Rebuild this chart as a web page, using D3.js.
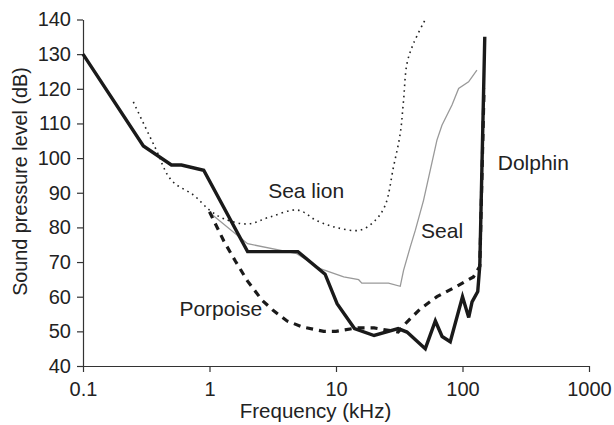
<!DOCTYPE html>
<html>
<head>
<meta charset="utf-8">
<script src="https://cdn.jsdelivr.net/npm/d3@7"></script>
<style>
  html, body { margin: 0; padding: 0; background: #fff; }
  svg text { font-family: "Liberation Sans", Arial, Helvetica, sans-serif; fill: #222; }
</style>
</head>
<body>
<svg id="chart" width="614" height="425"></svg>
<script>
// ---- data (frequency kHz, threshold dB) ----
const xTicks = [0.1, 1, 10, 100, 1000];
const xTickLabels = ["0.1", "1", "10", "100", "1000"];
const yTicks = [40, 50, 60, 70, 80, 90, 100, 110, 120, 130, 140];

const dolphinFreq = [0.1, 0.3, 0.5, 0.6, 0.9, 2, 5, 8.2, 10.2, 14, 20, 31, 36.4, 50.8, 61, 69, 80, 100, 112, 119, 132, 137, 150];
const dolphinDb   = [130, 103.5, 98, 98, 96.5, 73, 73, 66.5, 58, 50.8, 48.8, 50.8, 49.8, 45, 53, 48.5, 47, 60, 54, 58.5, 61.5, 69, 135];

const porpoiseFreq = [1, 1.3, 1.6, 2, 2.6, 3.2, 4.1, 5.5, 8, 10, 14.6, 20, 31, 36.4, 46.4, 62.8, 85, 122, 137, 148];
const porpoiseDb   = [84.5, 76, 70.3, 64.5, 59, 56, 53, 51.2, 50, 50, 51, 51, 49.8, 52.7, 56.5, 60, 62.5, 65.7, 68.8, 120];

const sealionFreq = [0.25, 0.37, 0.5, 0.75, 1, 1.3, 2, 3, 5, 7, 10, 15.5, 20.4, 24.5, 28.5, 32.2, 34.2, 36.4, 41, 50.8];
const sealionDb   = [116.2, 103.2, 93.6, 89.3, 85, 82.5, 81, 83, 85, 82, 80, 79.2, 82, 86.4, 97.5, 107.1, 116.7, 127.3, 133.1, 140];

const sealFreq = [1, 2, 4.9, 7.5, 11.5, 15.1, 16, 26, 32.2, 34.2, 38.6, 42.4, 49.2, 62.8, 68.8, 82.6, 93.2, 111.7, 130];
const sealDb   = [84.3, 75.3, 72.4, 68.1, 65.7, 64.9, 63.9, 63.9, 63, 67.6, 74.3, 79.2, 87.8, 105.2, 109.5, 115.3, 120.1, 122, 125.4];

// label anchors in data coordinates (start of text, baseline)
const labels = [
  { text: "Sea lion", f: 2.91, db: 88.4 },
  { text: "Seal", f: 47, db: 76.8 },
  { text: "Dolphin", f: 190, db: 96.5 },
  { text: "Porpoise", f: 0.578, db: 54.4 }
];

// ---- layout ----
const svg = d3.select("#chart");
const x = d3.scaleLog().domain([0.1, 1000]).range([83, 589]);
const y = d3.scaleLinear().domain([40, 140]).range([366, 19.5]);

const axisColor = "#333";

// axes
const gx = svg.append("g").attr("transform", `translate(0,${y(40)})`)
  .call(d3.axisBottom(x).tickValues(xTicks).tickFormat((d, i) => xTickLabels[i]).tickSize(6).tickSizeOuter(0).tickPadding(10));
const gy = svg.append("g").attr("transform", `translate(${x(0.1)},0)`)
  .call(d3.axisLeft(y).tickValues(yTicks).tickFormat(d3.format("d")).tickSize(6).tickSizeOuter(0).tickPadding(6));

[gx, gy].forEach(g => {
  g.select(".domain").attr("stroke", axisColor).attr("stroke-width", 1.2);
  g.selectAll(".tick line").attr("stroke", axisColor).attr("stroke-width", 1.2);
  g.selectAll(".tick text").attr("font-size", 20).attr("fill", "#222")
    .style("font-family", '"Liberation Sans", Arial, sans-serif');
});

// axis titles
svg.append("text").attr("x", 315.5).attr("y", 418).attr("text-anchor", "middle")
  .attr("font-size", 20.5).text("Frequency (kHz)");
svg.append("text").attr("transform", "translate(27,181.5) rotate(-90)").attr("text-anchor", "middle")
  .attr("font-size", 19.8).text("Sound pressure level (dB)");

// lines
const line = d3.line().x(d => x(d[0])).y(d => y(d[1]));
const zip = (a, b) => a.map((v, i) => [v, b[i]]);

svg.append("path").datum(zip(sealFreq, sealDb)).attr("d", line)
  .attr("fill", "none").attr("stroke", "#999").attr("stroke-width", 1.3);

svg.append("path").datum(zip(sealionFreq, sealionDb)).attr("d", line.curve(d3.curveCatmullRom))
  .attr("fill", "none").attr("stroke", "#222").attr("stroke-width", 1.6)
  .attr("stroke-dasharray", "1.6 4");
line.curve(d3.curveLinear);

svg.append("path").datum(zip(porpoiseFreq, porpoiseDb)).attr("d", line)
  .attr("fill", "none").attr("stroke", "#1a1a1a").attr("stroke-width", 3.2)
  .attr("stroke-dasharray", "7 6");

svg.append("path").datum(zip(dolphinFreq, dolphinDb)).attr("d", line)
  .attr("fill", "none").attr("stroke", "#1a1a1a").attr("stroke-width", 3.4)
  .attr("stroke-linejoin", "miter");

// labels
svg.selectAll("text.lbl").data(labels).enter().append("text")
  .attr("class", "lbl")
  .attr("x", d => x(d.f)).attr("y", d => y(d.db))
  .attr("font-size", 21).text(d => d.text);
</script>
</body>
</html>
